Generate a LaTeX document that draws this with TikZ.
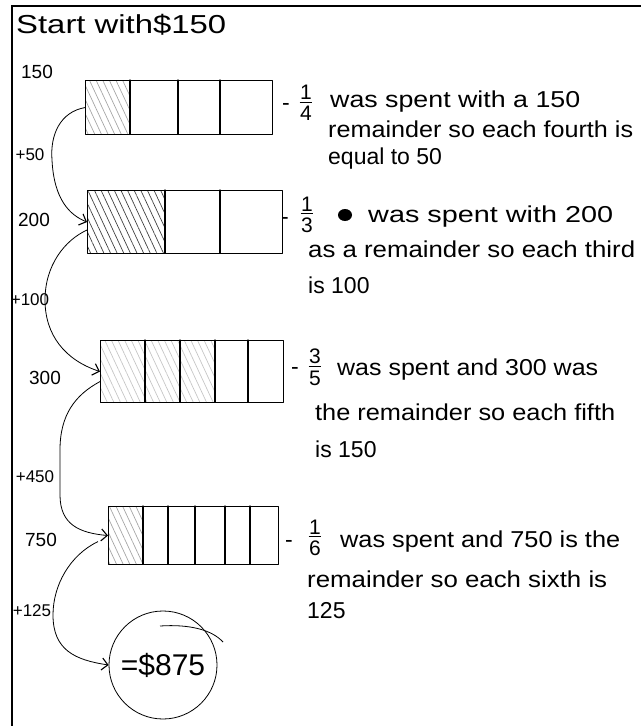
\documentclass[tikz,border=0pt]{standalone}
\usepackage{fontspec}
\usepackage{graphicx}
\setmainfont{Liberation Sans}
\usetikzlibrary{arrows.meta,patterns.meta,calc}
\newcommand{\fitto}[2]{\resizebox{#1}{\height}{#2}}
\newcommand{\hfr}[2]{\shortstack{#1\\[-1pt]\rule{0.6em}{1pt}\\[1pt]#2}}
\begin{document}
\begin{tikzpicture}[x=1pt,y=-1pt,
  hand/.style={line width=1.1pt, line cap=round, line join=round},
  bar/.style={draw, hand, rectangle, inner sep=0pt, anchor=north west},
  note/.style={anchor=base west, inner sep=0pt, font=\fontsize{23}{25}\selectfont},
  lbl/.style={inner sep=0pt, font=\fontsize{19}{21}\selectfont},
  plbl/.style={inner sep=0pt, font=\fontsize{17}{19}\selectfont},
  frac/.style={inner sep=0pt, font=\fontsize{21}{21}\selectfont},
  link/.style={line width=0.8pt, -{Straight Barb[length=6pt,width=12pt,line width=1.1pt]}},
  hatch/.style={pattern={Lines[angle=-65,distance=6pt,line width=0.7pt]}, pattern color=#1}
]
\useasboundingbox (0,0) rectangle (641,726);
% frame
\draw[line width=1.4pt] (12,726) -- (12,6) -- (641,6);

% title
\node[anchor=base west, inner sep=0pt, font=\fontsize{26}{28}\selectfont] (title) at (16,33) {\fitto{210pt}{Start with\$150}};

% hatching
\fill[hatch=gray!70] (85,80) rectangle (130,134);
\fill[hatch=black!75] (87,190) rectangle (165,253);
\fill[hatch=gray!45] (100,340) rectangle (215,402);
\fill[hatch=gray!70] (108,506) rectangle (143,564);

% bars
\node[bar, minimum width=187pt, minimum height=54pt] (b1) at (85,80) {};
\node[bar, minimum width=195pt, minimum height=63pt] (b2) at (87,190) {};
\node[bar, minimum width=183pt, minimum height=62pt] (b3) at (100,340) {};
\node[bar, minimum width=170pt, minimum height=58pt] (b4) at (108,506) {};
\foreach \x in {130,178,220} \draw[hand] (\x,80) -- (\x,134);
\foreach \x in {165,220} \draw[hand] (\x,190) -- (\x,253);
\foreach \x in {145,180,215,248} \draw[hand] (\x,340) -- (\x,402);
\foreach \x in {143,168,195,225,250} \draw[hand] (\x,506) -- (\x,564);

% result
\node[draw, circle, line width=0.8pt, minimum size=108pt, inner sep=0pt, font=\fontsize{30}{32}\selectfont] (res) at (163,665) {=\$875};
\draw[line width=0.8pt] (160,626) .. controls (190,624) and (212,630) .. (223,642);

% left labels
\node[lbl] (n150) at (37,72) {150};
\node[plbl] (p50) at (30,155) {+50};
\node[lbl] (n200) at (34,220) {200};
\node[plbl] (p100) at (30,300) {+100};
\node[lbl] (n300) at (45,378) {300};
\node[plbl] (p450) at (35,477) {+450};
\node[lbl] (n750) at (41,540) {750};
\node[plbl] (p125) at (32,611) {+125};

% connectors
\draw[link] (b1.west) .. controls (60,112) and (50,135) .. (52,160) .. controls (54,200) and (70,215) .. (b2.west);
\draw[link] ([yshift=-8pt]b2.west) .. controls (65,240) and (45,265) .. (45,300) .. controls (45,335) and (65,360) .. (b3.west);
\draw[link] ([yshift=-10pt]b3.west) .. controls (75,395) and (60,415) .. (60,450) -- (60,495) .. controls (60,525) and (80,533) .. (b4.west);
\draw[link] ([xshift=-10pt,yshift=-6pt]b4.west) .. controls (70,555) and (53,585) .. (53,615) .. controls (53,650) and (75,660) .. (res.west);

% block 1
\node[note] (d1) at (282,110) {-};
\node[frac] (f1) at (306,103) {\hfr{1}{4}};
\node[note] (t1a) at (330,107) {\fitto{250pt}{was spent with a 150}};
\node[note] (t1b) at (328,137) {\fitto{305pt}{remainder so each fourth is}};
\node[note] (t1c) at (328,164) {equal to 50};

% block 2
\node[note] (d2) at (281,224) {-};
\node[frac] (f2) at (307,215) {\hfr{1}{3}};
\fill (345,215) ellipse (7 and 6);
\node[note] (t2a) at (368,222) {\fitto{245pt}{was spent with 200}};
\node[note] (t2b) at (308,257) {\fitto{327pt}{as a remainder so each third}};
\node[note] (t2c) at (308,293) {is 100};

% block 3
\node[note] (d3) at (291,374) {-};
\node[frac] (f3) at (315,367) {\hfr{3}{5}};
\node[note] (t3a) at (337,375) {\fitto{261pt}{was spent and 300 was}};
\node[note] (t3b) at (315,420) {\fitto{300pt}{the remainder so each fifth}};
\node[note] (t3c) at (315,457) {is 150};

% block 4
\node[note] (d4) at (285,547) {-};
\node[frac] (f4) at (315,538) {\hfr{1}{6}};
\node[note] (t4a) at (340,547) {\fitto{280pt}{was spent and 750 is the}};
\node[note] (t4b) at (307,587) {\fitto{300pt}{remainder so each sixth is}};
\node[note] (t4c) at (307,618) {125};
\end{tikzpicture}
\end{document}
